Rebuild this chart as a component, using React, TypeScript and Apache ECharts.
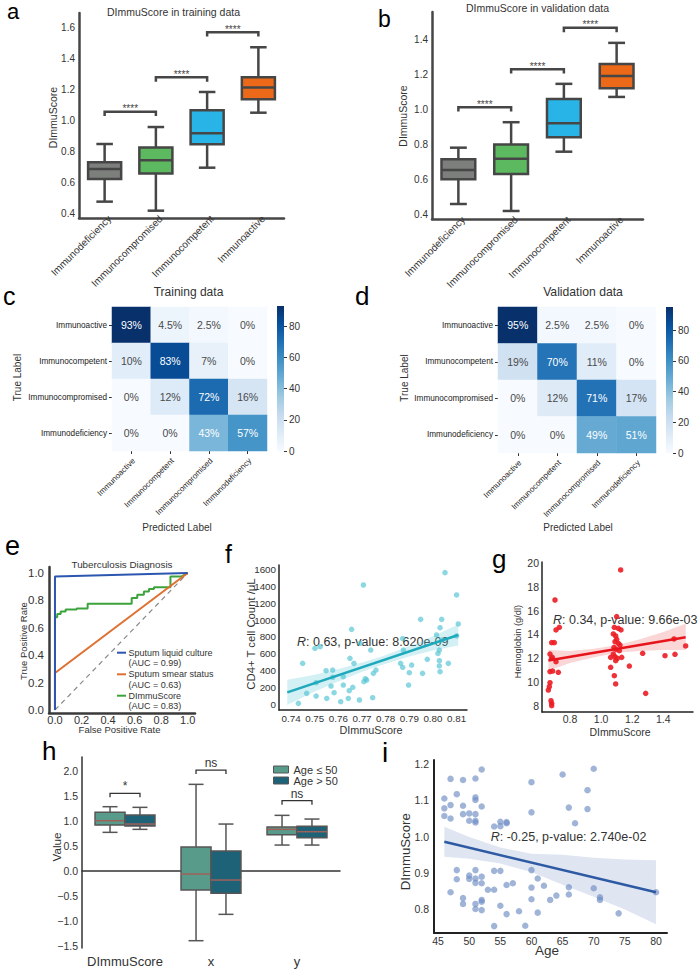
import React, { useEffect, useRef } from "react";
import * as echarts from "echarts";

const FONT = "'Liberation Sans', Arial, Helvetica, sans-serif";
const TXT = "#333333";

// ---------- panels a / b : DImmuScore boxplots ----------
const immunoCats = ["Immunodeficiency", "Immunocompromised", "Immunocompetent", "Immunoactive"];
const immunoColors = ["#7d7f7d", "#5db95f", "#28b4e6", "#eb6919"];
// [low whisker, Q1, median, Q3, high whisker]
const trainBoxes = [
  [0.479, 0.625, 0.689, 0.732, 0.849],
  [0.421, 0.659, 0.745, 0.826, 0.958],
  [0.697, 0.847, 0.918, 1.065, 1.183],
  [1.05, 1.136, 1.211, 1.277, 1.47],
];
const validBoxes = [
  [0.459, 0.601, 0.654, 0.716, 0.782],
  [0.419, 0.631, 0.719, 0.8, 0.928],
  [0.759, 0.842, 0.922, 1.061, 1.148],
  [1.073, 1.123, 1.193, 1.262, 1.383],
];
// [from category, to category, height]
const trainBrackets = [[0, 1, 1.056], [1, 2, 1.277], [2, 3, 1.566]];
const validBrackets = [[0, 1, 1.014], [1, 2, 1.232], [2, 3, 1.469]];
const sigStars = "****";
const trainTicks = [0.4, 0.6, 0.8, 1.0, 1.2, 1.4, 1.6];
const validTicks = [0.4, 0.6, 0.8, 1.0, 1.2, 1.4];

// ---------- panels c / d : confusion matrices ----------
const cmLabels = ["Immunoactive", "Immunocompetent", "Immunocompromised", "Immunodeficiency"];
const cmTrain = [
  [93, 4.5, 2.5, 0],
  [10, 83, 7, 0],
  [0, 12, 72, 16],
  [0, 0, 43, 57],
];
const cmValid = [
  [95, 2.5, 2.5, 0],
  [19, 70, 11, 0],
  [0, 12, 71, 17],
  [0, 0, 49, 51],
];
const cbTicks = [0, 20, 40, 60, 80];
const blues = ["#f7fbff", "#deebf7", "#c6dbef", "#9ecae1", "#6baed6", "#4292c6", "#2171b5", "#08519c", "#08306b"];

// ---------- panel e : ROC ----------
const rocTicks = [0, 0.2, 0.4, 0.6, 0.8, 1.0];
const rocDiag = [[0, 0], [1, 1]];
const rocCulture = [[0, 0], [0, 0.975], [1, 1]];
const rocSmear = [[0, 0], [0, 0.27], [1, 1]];
const rocScore = [
  [0, 0], [0, 0.678], [0.017, 0.678], [0.017, 0.7], [0.043, 0.7], [0.043, 0.719], [0.08, 0.719],
  [0.08, 0.734], [0.163, 0.734], [0.163, 0.741], [0.246, 0.741], [0.246, 0.775], [0.578, 0.775],
  [0.578, 0.817], [0.62, 0.817], [0.62, 0.841], [0.67, 0.841], [0.67, 0.866], [0.708, 0.866],
  [0.708, 0.883], [0.746, 0.883], [0.746, 0.897], [0.87, 0.897], [0.87, 0.975], [0.955, 0.975], [1, 1],
];
const rocNames = ["Sputum liquid culture", "Sputum smear status", "DImmuScore"];
const rocAUC = ["(AUC = 0.99)", "(AUC = 0.63)", "(AUC = 0.83)"];
const rocColors = ["#2d56b0", "#e07030", "#3ca33c"];

// ---------- panel f : CD4+ vs DImmuScore ----------
const fTicksX = [0.74, 0.75, 0.76, 0.77, 0.78, 0.79, 0.8, 0.81];
const fTicksY = [0, 200, 400, 600, 800, 1000, 1200, 1400, 1600];
const cd4Points = [
  [0.7431, 8], [0.7449, 484], [0.7466, 127], [0.7501, 663], [0.7523, 683], [0.7506, 254], [0.7506, 95],
  [0.7548, 397], [0.7551, 67], [0.7576, 405], [0.7569, 214], [0.7582, 135], [0.7576, 318], [0.761, 28],
  [0.7621, 326], [0.7621, 226], [0.7642, 67], [0.7649, 544], [0.7656, 889], [0.7666, 484], [0.7661, 199],
  [0.7646, 159], [0.7692, 723], [0.7689, 48], [0.7706, 1417], [0.7708, 266], [0.772, 286], [0.7714, 302],
  [0.7737, 643], [0.7745, 75], [0.7748, 365], [0.7759, 405], [0.7863, 484], [0.7872, 437], [0.7875, 643],
  [0.79, 373], [0.7897, 226], [0.791, 464], [0.7948, 1008], [0.7956, 365], [0.7976, 532], [0.8015, 822],
  [0.8027, 643], [0.8027, 516], [0.8027, 453], [0.803, 385], [0.8021, 603], [0.8037, 1008], [0.803, 909],
  [0.8037, 762], [0.8051, 1564], [0.8065, 484], [0.81, 1298], [0.8107, 953], [0.81, 810], [0.7872, 780],
];
const cd4Fit = [[0.7384, 139], [0.8107, 822]];
// [x, lower, upper]
const cd4Band = [
  [0.7384, -10, 290], [0.75, 149, 349], [0.76, 268, 418], [0.77, 383, 493], [0.778, 463, 563],
  [0.79, 567, 687], [0.8, 636, 806], [0.8107, 697, 947],
];

// ---------- panel g : Hemoglobin vs DImmuScore ----------
const gTicksX = [0.8, 1.0, 1.2, 1.4];
const gTicksY = [8, 10, 12, 14, 16, 18, 20];
const hbPoints = [
  [0.7035, 16.9], [0.71, 14.38], [0.7314, 14.6], [0.6821, 13.31], [0.6992, 13.31], [0.6714, 12.35],
  [0.6821, 11.99], [0.71, 11.71], [0.6714, 10.87], [0.6885, 10.92], [0.725, 10.81], [0.6714, 9.94],
  [0.6671, 9.6], [0.6607, 9.32], [0.6778, 8.42], [0.6821, 8.2], [0.6821, 8.0], [0.6864, 12.07],
  [1.1258, 19.43], [1.1001, 15.5], [1.0851, 14.6], [1.1108, 14.52], [1.128, 14.38], [1.0787, 14.04],
  [1.0937, 13.87], [1.1001, 13.59], [1.0894, 13.39], [1.1108, 13.25], [1.1216, 13.11], [1.083, 12.92],
  [1.0958, 12.75], [1.1173, 12.63], [1.0787, 12.35], [1.0894, 12.13], [1.0615, 12.07], [1.1044, 11.99],
  [1.1323, 12.07], [1.0937, 11.79], [1.0615, 11.23], [1.0851, 10.53], [1.0937, 9.83], [1.1816, 11.34],
  [1.2673, 12.41], [1.2866, 9.04], [1.4109, 12.21], [1.4688, 13.62], [1.4752, 12.33], [1.5438, 13.03],
];
const hbFit = [[0.661, 11.8], [1.544, 13.76]];
const hbBand = [
  [0.661, 10.95, 12.7], [0.8, 11.6, 12.6], [0.95, 12.05, 12.8], [1.1, 12.45, 13.1],
  [1.25, 12.6, 13.6], [1.4, 12.7, 14.2], [1.544, 12.7, 14.9],
];

// ---------- panel h : age groups ----------
const hCats = ["DImmuScore", "x", "y"];
const hGroups = ["Age \u2264 50", "Age > 50"];
const hColors = ["#589b8a", "#1e6278"];
const boxYoung = [
  [0.767, 0.913, 1.0, 1.167, 1.28],
  [-1.4, -0.387, -0.067, 0.473, 1.727],
  [0.513, 0.72, 0.827, 0.873, 1.107],
];
const boxOld = [
  [0.827, 0.893, 0.933, 1.113, 1.267],
  [-0.873, -0.453, -0.187, 0.393, 0.933],
  [0.513, 0.66, 0.78, 0.887, 1.033],
];
const hBrackets = [[0, 1.547], [1, 2.013], [2, 1.4]];
const hSig = ["*", "ns", "ns"];
const hTicks = [-1.5, -1.0, -0.5, 0.0, 0.5, 1.0, 1.5, 2.0];

// ---------- panel i : DImmuScore vs Age ----------
const iTicksX = [45, 50, 55, 60, 65, 70, 75, 80];
const iTicksY = [0.8, 0.9, 1.0, 1.1, 1.2];
const agePoints = [
  [46, 1.105], [46, 1.078], [46, 1.057],
  [47, 1.159], [47, 1.087], [47, 1.05], [47, 0.847],
  [48, 1.117], [48, 0.883], [48, 0.908],
  [49, 1.156], [49, 1.085], [49, 1.062], [49, 0.831], [49, 0.815],
  [50, 1.064], [50, 1.044], [50, 0.893], [50, 0.884],
  [51, 1.16], [51, 1.108], [51, 1.101], [51, 1.062], [51, 1.044], [51, 1.039], [51, 0.908], [51, 0.885],
  [51, 0.873], [51, 0.815], [51, 0.801],
  [52, 1.185], [52, 1.083], [52, 0.89], [52, 0.872], [52, 0.826], [52, 0.821], [52, 0.798],
  [53, 0.854],
  [54, 1.028], [54, 0.906], [54, 0.854], [54, 0.754],
  [55, 1.041], [55, 1.029], [55, 0.906], [55, 0.81],
  [56, 1.04], [56, 1.037], [56, 0.867], [56, 0.787],
  [57, 0.872], [58, 0.795], [59, 0.755],
  [60, 1.15], [60, 1.067], [60, 0.908], [60, 0.86], [60, 0.828],
  [61, 0.885], [61, 0.791], [62, 0.865], [63, 0.826], [64, 0.838], [65, 1.171],
  [66, 1.08], [66, 0.861], [66, 0.841], [67, 1.037], [69, 1.128], [69, 1.076],
  [70, 1.187], [70, 0.858], [71, 0.833], [71, 0.826], [74, 0.789], [80, 0.847],
];
const ageFit = [[46, 0.986], [80, 0.847]];
const ageBand = [
  [46, 0.945, 1.027], [50, 0.939, 0.999], [55, 0.926, 0.97], [60, 0.903, 0.953],
  [65, 0.868, 0.95], [70, 0.835, 0.942], [75, 0.8, 0.937], [80, 0.759, 0.935],
];

// ---------- helpers ----------
const f1 = (v: number) => v.toFixed(1);
const f2 = (v: number) => v.toFixed(2);
const f0 = (v: number) => String(Math.round(v));
const fMinus = (v: number) => (v < 0 ? "\u2212" + Math.abs(v).toFixed(1) : v.toFixed(1));

function valAxis(gridIndex: number, min: number, max: number, ticks: number[], fmt: any, o: any) {
  return {
    type: "value",
    gridIndex,
    min,
    max,
    splitLine: { show: false },
    axisLine: { show: true, onZero: false, lineStyle: { color: o.lc, width: o.lw } },
    axisTick: { show: false },
    axisLabel: {
      customValues: ticks,
      formatter: fmt,
      fontSize: o.fs,
      color: TXT,
      fontFamily: FONT,
      margin: o.m,
    },
  };
}

function boxRender(colors: string[] | null, offset: number, widthRatio: number, stroke: string, medColor: string, lw: number) {
  return (params: any, api: any) => {
    const cat = api.value(0);
    const lo = api.value(1), q1 = api.value(2), med = api.value(3), q3 = api.value(4), hi = api.value(5);
    const band = api.size([1, 0])[0];
    const cx = api.coord([cat, med])[0] + band * offset;
    const w = band * widthRatio;
    const yLo = api.coord([cat, lo])[1];
    const yQ1 = api.coord([cat, q1])[1];
    const yMed = api.coord([cat, med])[1];
    const yQ3 = api.coord([cat, q3])[1];
    const yHi = api.coord([cat, hi])[1];
    const fill = colors ? colors[cat] : api.visual("color");
    const ls = { stroke, lineWidth: lw };
    return {
      type: "group",
      children: [
        { type: "line", shape: { x1: cx, y1: yHi, x2: cx, y2: yQ3 }, style: ls },
        { type: "line", shape: { x1: cx, y1: yQ1, x2: cx, y2: yLo }, style: ls },
        { type: "line", shape: { x1: cx - w / 4, y1: yHi, x2: cx + w / 4, y2: yHi }, style: ls },
        { type: "line", shape: { x1: cx - w / 4, y1: yLo, x2: cx + w / 4, y2: yLo }, style: ls },
        { type: "rect", shape: { x: cx - w / 2, y: yQ3, width: w, height: yQ1 - yQ3 }, style: { fill, stroke, lineWidth: lw } },
        { type: "line", shape: { x1: cx - w / 2, y1: yMed, x2: cx + w / 2, y2: yMed }, style: { stroke: medColor, lineWidth: lw } },
      ],
    };
  };
}

function catBracket(label: string, lw: number, color: string, size: number, tick: number) {
  return (params: any, api: any) => {
    const y = api.value(1);
    const p1 = api.coord([api.value(0), y]);
    const p2 = api.coord([api.value(2), y]);
    return {
      type: "group",
      children: [
        {
          type: "polyline",
          shape: { points: [[p1[0], p1[1] + tick], [p1[0], p1[1]], [p2[0], p2[1]], [p2[0], p2[1] + tick]] },
          style: { stroke: color, lineWidth: lw, fill: null },
        },
        {
          type: "text",
          x: (p1[0] + p2[0]) / 2,
          y: p1[1] - 3,
          style: { text: label, align: "center", verticalAlign: "middle", fontSize: size, fontFamily: FONT, fill: color },
        },
      ],
    };
  };
}

function hueBracket(labels: string[], offset: number) {
  return (params: any, api: any) => {
    const cat = api.value(0);
    const p = api.coord([cat, api.value(1)]);
    const band = api.size([1, 0])[0];
    const x1 = p[0] - band * offset;
    const x2 = p[0] + band * offset;
    return {
      type: "group",
      children: [
        {
          type: "polyline",
          shape: { points: [[x1, p[1] + 4], [x1, p[1]], [x2, p[1]], [x2, p[1] + 4]] },
          style: { stroke: "#333", lineWidth: 1.3, fill: null },
        },
        {
          type: "text",
          x: p[0],
          y: p[1] - 1,
          style: { text: labels[params.dataIndex], align: "center", verticalAlign: "bottom", fontSize: 12, fontFamily: FONT, fill: "#333" },
        },
      ],
    };
  };
}

function bandRender(band: number[][], color: string) {
  return (params: any, api: any) => {
    if (params.dataIndex !== 0) return null;
    const up = band.map((b) => api.coord([b[0], b[2]]));
    const lo = band.map((b) => api.coord([b[0], b[1]])).reverse();
    return { type: "polygon", shape: { points: up.concat(lo) }, style: { fill: color } };
  };
}

const cmData = (m: number[][]) =>
  m.flatMap((row, r) =>
    row.map((v, c) => ({ value: [c, r, v], label: { color: v >= 40 ? "#ffffff" : "#4a4a4a" } }))
  );

function T(text: string, x: number, y: number, size: number, o: any = {}) {
  return {
    type: "text",
    x,
    y,
    rotation: o.rot ? Math.PI / 2 : 0,
    silent: true,
    style: {
      text,
      fontSize: size,
      fontFamily: FONT,
      fill: o.color || TXT,
      align: o.align || "center",
      verticalAlign: "middle",
      rich: o.rich,
    },
  };
}
const L = (text: string, left: number, baseline: number, size: number) =>
  T(text, left, baseline - 0.3465 * size, size, { align: "left", color: "#000" });
const statRich = { i: { fontStyle: "italic", fontSize: 12.5, fontFamily: FONT, fill: TXT } };

function buildOption() {
  const maxTrain = Math.max(...cmTrain.flat());
  const maxValid = Math.max(...cmValid.flat());
  const stops = blues.map((c, i) => ({ offset: 1 - i / (blues.length - 1), color: c })).reverse();
  const cbColor = () => new echarts.graphic.LinearGradient(0, 0, 0, 1, stops);

  const grid = [
    { left: 79, top: 13, width: 205, height: 205 }, // 0 a
    { left: 432, top: 12, width: 211, height: 207 }, // 1 b
    { left: 112, top: 307, width: 155, height: 144 }, // 2 c
    { left: 277, top: 306, width: 7, height: 145 }, // 3 c bar
    { left: 498, top: 307, width: 158, height: 146 }, // 4 d
    { left: 666, top: 307, width: 7, height: 146 }, // 5 d bar
    { left: 49, top: 567, width: 146, height: 146 }, // 6 e
    { left: 279, top: 565, width: 188, height: 145 }, // 7 f
    { left: 542, top: 562, width: 151, height: 150 }, // 8 g
    { left: 82, top: 757, width: 258, height: 191 }, // 9 h
    { left: 434, top: 760, width: 233, height: 173 }, // 10 i
  ];

  const catBoxAxis = (gi: number) => ({
    type: "category",
    gridIndex: gi,
    data: immunoCats,
    axisLine: { show: true, lineStyle: { color: "#464646", width: 2.5 } },
    axisTick: { show: false },
    axisLabel: { interval: 0, rotate: 45, fontSize: 10, color: TXT, fontFamily: FONT, margin: 4, padding: [24, -7, 0, 0] },
  });
  const cmXAxis = (gi: number) => ({
    type: "category",
    gridIndex: gi,
    data: cmLabels,
    axisLine: { show: false },
    axisTick: { show: true, length: 3, alignWithLabel: true, lineStyle: { color: "#333" } },
    axisLabel: { interval: 0, rotate: 45, fontSize: 8, color: "#222", fontFamily: FONT, margin: 11, padding: [7, -3.5, 0, 0] },
    splitLine: { show: false },
  });
  const cmYAxis = (gi: number) => ({
    type: "category",
    gridIndex: gi,
    data: cmLabels,
    inverse: true,
    axisLine: { show: false },
    axisTick: { show: true, length: 3, alignWithLabel: true, lineStyle: { color: "#333" } },
    axisLabel: { interval: 0, fontSize: 8.2, color: "#222", fontFamily: FONT, margin: 5 },
    splitLine: { show: false },
  });
  const cbXAxis = (gi: number) => ({ type: "category", gridIndex: gi, data: ["cb"], show: false });
  const cbYAxis = (gi: number, max: number) => ({
    type: "value",
    gridIndex: gi,
    min: 0,
    max,
    position: "right",
    splitLine: { show: false },
    axisLine: { show: false },
    axisTick: { show: true, length: 3, customValues: cbTicks, lineStyle: { color: "#333" } },
    axisLabel: { customValues: cbTicks, fontSize: 10, color: TXT, fontFamily: FONT, margin: 5 },
  });

  const xAxis: any[] = [
    catBoxAxis(0),
    catBoxAxis(1),
    cmXAxis(2),
    cbXAxis(3),
    cmXAxis(4),
    cbXAxis(5),
    valAxis(6, -0.045, 1.055, rocTicks, f1, { lc: "#3a3a3a", lw: 2.5, fs: 11, m: 1 }),
    valAxis(7, 0.7349, 0.8144, fTicksX, f2, { lc: "#222", lw: 1.5, fs: 9.8, m: 3 }),
    valAxis(8, 0.62, 1.591, gTicksX, f1, { lc: "#222", lw: 1.5, fs: 10.5, m: 1 }),
    {
      type: "category",
      gridIndex: 9,
      data: hCats,
      axisLine: { show: true, lineStyle: { color: "#333", width: 1.5 } },
      axisTick: { show: false },
      axisLabel: { interval: 0, fontSize: 13, color: TXT, fontFamily: FONT, margin: 7 },
    },
    valAxis(10, 44.34, 81.77, iTicksX, f0, { lc: "#222", lw: 2, fs: 10.5, m: 2 }),
  ];
  const yAxis: any[] = [
    valAxis(0, 0.374, 1.69, trainTicks, f1, { lc: "#464646", lw: 2.5, fs: 10, m: 4 }),
    valAxis(1, 0.373, 1.56, validTicks, f1, { lc: "#464646", lw: 2.5, fs: 10, m: 4 }),
    cmYAxis(2),
    cbYAxis(3, maxTrain),
    cmYAxis(4),
    cbYAxis(5, maxValid),
    valAxis(6, -0.022, 1.044, rocTicks, f1, { lc: "#3a3a3a", lw: 2.5, fs: 11.5, m: 5 }),
    valAxis(7, -71, 1655, fTicksY, f0, { lc: "#222", lw: 1.5, fs: 9.8, m: 3 }),
    valAxis(8, 7.47, 20.1, gTicksY, f0, { lc: "#222", lw: 1.5, fs: 10.5, m: 3 }),
    valAxis(9, -1.546, 2.274, hTicks, fMinus, { lc: "#333", lw: 1.5, fs: 10.5, m: 4 }),
    valAxis(10, 0.735, 1.211, iTicksY, f1, { lc: "#222", lw: 2, fs: 10.5, m: 5 }),
  ];

  const series: any[] = [];
  const add = (s: any) => {
    series.push({ silent: true, ...s });
    return series.length - 1;
  };

  // a
  add({
    type: "custom", name: "train", xAxisIndex: 0, yAxisIndex: 0,
    renderItem: boxRender(immunoColors, 0, 0.645, "#464646", "#464646", 2.5),
    data: trainBoxes.map((b, i) => [i, ...b]), encode: { x: 0, y: [1, 2, 3, 4, 5] },
  });
  add({
    type: "custom", name: "trainSig", xAxisIndex: 0, yAxisIndex: 0,
    renderItem: catBracket(sigStars, 2.5, "#464646", 10, 4.3),
    data: trainBrackets.map((b) => [b[0], b[2], b[1]]), encode: { x: 0, y: 1 },
  });
  // b
  add({
    type: "custom", name: "valid", xAxisIndex: 1, yAxisIndex: 1,
    renderItem: boxRender(immunoColors, 0, 0.64, "#464646", "#464646", 2.5),
    data: validBoxes.map((b, i) => [i, ...b]), encode: { x: 0, y: [1, 2, 3, 4, 5] },
  });
  add({
    type: "custom", name: "validSig", xAxisIndex: 1, yAxisIndex: 1,
    renderItem: catBracket(sigStars, 2.5, "#464646", 10, 4.3),
    data: validBrackets.map((b) => [b[0], b[2], b[1]]), encode: { x: 0, y: 1 },
  });
  // c
  const hmLabel = { show: true, fontSize: 10.5, fontFamily: FONT, formatter: (p: any) => p.value[2] + "%" };
  const idxC = add({ type: "heatmap", xAxisIndex: 2, yAxisIndex: 2, data: cmData(cmTrain), label: hmLabel, emphasis: { disabled: true } });
  add({ type: "bar", xAxisIndex: 3, yAxisIndex: 3, data: [maxTrain], barWidth: "100%", itemStyle: { color: cbColor() } });
  // d
  const idxD = add({ type: "heatmap", xAxisIndex: 4, yAxisIndex: 4, data: cmData(cmValid), label: hmLabel, emphasis: { disabled: true } });
  add({ type: "bar", xAxisIndex: 5, yAxisIndex: 5, data: [maxValid], barWidth: "100%", itemStyle: { color: cbColor() } });
  // e
  add({ type: "line", xAxisIndex: 6, yAxisIndex: 6, data: rocDiag, symbol: "none", lineStyle: { color: "#8a8a8a", width: 1.2, type: [5, 4] } });
  [rocScore, rocSmear, rocCulture].forEach((d, k) => {
    const ci = [2, 1, 0][k];
    add({ type: "line", name: rocNames[ci], xAxisIndex: 6, yAxisIndex: 6, data: d, symbol: "none", lineStyle: { color: rocColors[ci], width: 2 } });
  });
  // f
  add({ type: "custom", xAxisIndex: 7, yAxisIndex: 7, renderItem: bandRender(cd4Band, "rgba(110,205,220,0.3)"), data: cd4Band, encode: { x: 0, y: [1, 2] } });
  add({ type: "scatter", xAxisIndex: 7, yAxisIndex: 7, data: cd4Points, symbolSize: 5.5, itemStyle: { color: "rgba(84,196,212,0.85)" } });
  add({ type: "line", xAxisIndex: 7, yAxisIndex: 7, data: cd4Fit, symbol: "none", lineStyle: { color: "#1fa9bc", width: 2.5 } });
  // g
  add({ type: "custom", xAxisIndex: 8, yAxisIndex: 8, renderItem: bandRender(hbBand, "rgba(240,120,120,0.3)"), data: hbBand, encode: { x: 0, y: [1, 2] } });
  add({ type: "scatter", xAxisIndex: 8, yAxisIndex: 8, data: hbPoints, symbolSize: 5.5, itemStyle: { color: "#ec1c24", opacity: 0.9 } });
  add({ type: "line", xAxisIndex: 8, yAxisIndex: 8, data: hbFit, symbol: "none", lineStyle: { color: "#e8141c", width: 2.5 } });
  // h
  add({
    type: "custom", name: hGroups[0], xAxisIndex: 9, yAxisIndex: 9, itemStyle: { color: hColors[0] },
    renderItem: boxRender(null, -0.174, 0.349, "#555", "#a0605a", 1.5),
    data: boxYoung.map((b, i) => [i, ...b]), encode: { x: 0, y: [1, 2, 3, 4, 5] },
  });
  add({
    type: "custom", name: hGroups[1], xAxisIndex: 9, yAxisIndex: 9, itemStyle: { color: hColors[1] },
    renderItem: boxRender(null, 0.174, 0.349, "#555", "#a0605a", 1.5),
    data: boxOld.map((b, i) => [i, ...b]), encode: { x: 0, y: [1, 2, 3, 4, 5] },
  });
  add({ type: "custom", xAxisIndex: 9, yAxisIndex: 9, renderItem: hueBracket(hSig, 0.174), data: hBrackets, encode: { x: 0, y: 1 } });
  // i
  add({ type: "custom", xAxisIndex: 10, yAxisIndex: 10, renderItem: bandRender(ageBand, "rgba(150,170,210,0.3)"), data: ageBand, encode: { x: 0, y: [1, 2] } });
  add({ type: "scatter", xAxisIndex: 10, yAxisIndex: 10, data: agePoints, symbolSize: 6.5, itemStyle: { color: "rgba(110,140,195,0.82)" } });
  add({ type: "line", xAxisIndex: 10, yAxisIndex: 10, data: ageFit, symbol: "none", lineStyle: { color: "#2d5aa3", width: 2.5 } });

  const legendE: any[] = [];
  const legY = [652.7, 674.3, 695.7];
  rocNames.forEach((n, k) => {
    legendE.push({ type: "line", silent: true, shape: { x1: 117, y1: legY[k], x2: 126, y2: legY[k] }, style: { stroke: rocColors[k], lineWidth: 2 } });
    legendE.push(T(n, 128.5, legY[k], 9, { align: "left" }));
    legendE.push(T(rocAUC[k], 128.5, legY[k] + 10.3, 9, { align: "left" }));
  });

  const graphic = [
    L("a", 7, 19.5, 22), L("b", 378, 27, 23), L("c", 3, 305, 25), L("d", 355, 305, 26),
    L("e", 5, 555, 27), L("f", 225, 563, 25), L("g", 492, 568, 26), L("h", 42, 760, 26), L("i", 382, 762, 28),
    T("DImmuScore in training data", 173.5, 12.3, 10.5),
    T("DImmuScore in validation data", 537.5, 7.5, 10.5),
    T("DImmuScore", 53.3, 117.5, 10.5, { rot: true }),
    T("DImmuScore", 403, 116, 10.5, { rot: true }),
    T("Training data", 188.5, 292.3, 12),
    T("Validation data", 583, 292, 12.2),
    T("True Label", 17.5, 377.5, 10, { rot: true }),
    T("True Label", 404, 378, 10, { rot: true }),
    T("Predicted Label", 177, 527, 10),
    T("Predicted Label", 578, 527, 10),
    T("Tuberculosis Diagnosis", 122, 564, 9.8),
    T("True Positive Rate", 23, 641, 9.5, { rot: true }),
    T("False Positive Rate", 119.5, 729.5, 9.5),
    T("CD4+ T cell Count /\u03bcL", 251, 634, 11.3, { rot: true }),
    T("DImmuScore", 371, 729.5, 10.8),
    T("{i|R}: 0.63, p-value: 8.620e-09", 297, 641.7, 12.5, { align: "left", rich: statRich }),
    T("Hemoglobin (g/dl)", 518, 641.5, 9.3, { rot: true }),
    T("DImmuScore", 620, 731.7, 10.5),
    T("{i|R}: 0.34, p-value: 9.66e-03", 553, 620, 12.5, { align: "left", rich: statRich }),
    T("Value", 56, 847, 11.7, { rot: true }),
    T("DImmuScore", 405, 851.7, 13.2, { rot: true }),
    T("Age", 547, 950.7, 13.5),
    T("{i|R}: -0.25, p-value: 2.740e-02", 490.7, 836.7, 12.5, { align: "left", rich: statRich }),
    ...legendE,
  ];

  return {
    animation: false,
    backgroundColor: "#ffffff",
    textStyle: { fontFamily: FONT },
    grid,
    xAxis,
    yAxis,
    series,
    visualMap: [
      { type: "continuous", show: false, min: 0, max: maxTrain, dimension: 2, seriesIndex: idxC, inRange: { color: blues } },
      { type: "continuous", show: false, min: 0, max: maxValid, dimension: 2, seriesIndex: idxD, inRange: { color: blues } },
    ],
    legend: {
      data: hGroups,
      left: 273,
      top: 764,
      orient: "vertical",
      icon: "rect",
      itemWidth: 15,
      itemHeight: 7,
      itemGap: 0,
      padding: 0,
      selectedMode: false,
      itemStyle: { borderColor: "#555", borderWidth: 1 },
      textStyle: { fontSize: 11, color: TXT, fontFamily: FONT, lineHeight: 9 },
    },
    graphic: { elements: graphic },
  };
}

export default function App() {
  const ref = useRef<HTMLDivElement>(null);
  useEffect(() => {
    if (!ref.current) return;
    const chart = echarts.init(ref.current, undefined, { renderer: "svg" });
    chart.setOption(buildOption() as any);
    return () => chart.dispose();
  }, []);
  return <div ref={ref} style={{ position: "absolute", left: 0, top: 0, width: 700, height: 971, background: "#fff" }} />;
}
